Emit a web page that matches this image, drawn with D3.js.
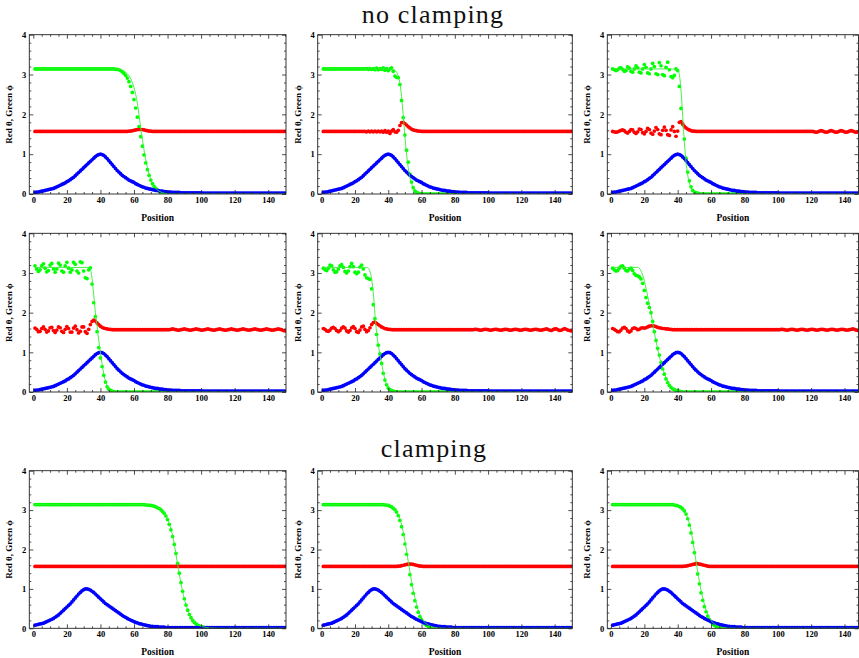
<!DOCTYPE html>
<html>
<head>
<meta charset="utf-8">
<script src="https://cdn.jsdelivr.net/npm/d3@7"></script>
<style>
  body { margin: 0; background: #fff; }
  svg { display: block; }
</style>
</head>
<body>
<svg id="chart" width="859" height="658"></svg>
<script>
// ---- tick values -------------------------------------------------------
const xTicks = [0, 20, 40, 60, 80, 100, 120, 140];
const xMinor = [5, 10, 15, 25, 30, 35, 45, 50, 55, 65, 70, 75, 85, 90, 95, 105, 110, 115, 125, 130, 135, 145, 150];
const yTicks = [0, 1, 2, 3, 4];
const yMinor = [0.2, 0.4, 0.6, 0.8, 1.2, 1.4, 1.6, 1.8, 2.2, 2.4, 2.6, 2.8, 3.2, 3.4, 3.6, 3.8];

// site positions 1..150
const positions = d3.range(1, 151);

// ---- blue profile (rows 1-2, centred near 40) --------------------------
const blueA = [
  0.04,0.05,0.05,0.06,0.07,0.08,0.09,0.10,0.11,0.12,
  0.13,0.14,0.16,0.18,0.20,0.22,0.24,0.26,0.28,0.31,
  0.33,0.36,0.39,0.42,0.46,0.50,0.54,0.58,0.62,0.66,
  0.70,0.74,0.78,0.82,0.86,0.90,0.94,0.97,0.99,1.00,
  0.99,0.97,0.93,0.89,0.84,0.79,0.74,0.69,0.64,0.59,
  0.55,0.51,0.47,0.44,0.41,0.38,0.35,0.33,0.31,0.29,
  0.26,0.24,0.22,0.20,0.18,0.17,0.15,0.14,0.13,0.12,
  0.11,0.10,0.09,0.09,0.08,0.07,0.07,0.06,0.06,0.05,
  0.05,0.05,0.04,0.04,0.04,0.04,0.04,0.03,0.03,0.03,
  0.03,0.03,0.03,0.03,0.03,0.03,0.03,0.03,0.03,0.03,
  0.02,0.02,0.02,0.02,0.02,0.02,0.02,0.02,0.02,0.02,
  0.02,0.02,0.02,0.02,0.02,0.02,0.02,0.02,0.02,0.02,
  0.02,0.02,0.02,0.02,0.02,0.02,0.02,0.02,0.02,0.02,
  0.02,0.02,0.02,0.02,0.02,0.02,0.02,0.02,0.02,0.02,
  0.02,0.02,0.02,0.02,0.02,0.02,0.02,0.02,0.02,0.02
];
// ---- blue profile (row 3, centred near 32) -----------------------------
const blueB = [
  0.08,0.09,0.10,0.11,0.12,0.13,0.15,0.17,0.19,0.21,
  0.23,0.25,0.28,0.31,0.34,0.38,0.42,0.46,0.50,0.54,
  0.58,0.62,0.67,0.72,0.77,0.82,0.87,0.91,0.95,0.98,
  1.00,1.00,0.99,0.97,0.94,0.91,0.87,0.83,0.79,0.75,
  0.71,0.67,0.63,0.60,0.57,0.54,0.51,0.48,0.45,0.42,
  0.39,0.36,0.33,0.30,0.28,0.25,0.23,0.21,0.19,0.17,
  0.15,0.14,0.12,0.11,0.10,0.09,0.08,0.07,0.06,0.05,
  0.05,0.04,0.04,0.04,0.03,0.03,0.03,0.03,0.02,0.02,
  0.02,0.02,0.02,0.02,0.02,0.02,0.02,0.02,0.02,0.02,
  0.02,0.02,0.02,0.02,0.02,0.02,0.02,0.02,0.02,0.02,
  0.02,0.02,0.02,0.02,0.02,0.02,0.02,0.02,0.02,0.02,
  0.02,0.02,0.02,0.02,0.02,0.02,0.02,0.02,0.02,0.02,
  0.02,0.02,0.02,0.02,0.02,0.02,0.02,0.02,0.02,0.02,
  0.02,0.02,0.02,0.02,0.02,0.02,0.02,0.02,0.02,0.02,
  0.02,0.02,0.02,0.02,0.02,0.02,0.02,0.02,0.02,0.02
];

// ---- panel 1 -----------------------------------------------------------
const green1 = [
  3.14,3.14,3.14,3.14,3.14,3.14,3.14,3.14,3.14,3.14,
  3.14,3.14,3.14,3.14,3.14,3.14,3.14,3.14,3.14,3.14,
  3.14,3.14,3.14,3.14,3.14,3.14,3.14,3.14,3.14,3.14,
  3.14,3.14,3.14,3.14,3.14,3.14,3.14,3.14,3.14,3.14,
  3.14,3.14,3.14,3.14,3.14,3.14,3.14,3.14,3.13,3.13,
  3.12,3.10,3.07,3.03,2.98,2.91,2.82,2.70,2.55,2.37,
  2.16,1.93,1.69,1.44,1.20,0.98,0.78,0.61,0.47,0.35,
  0.26,0.19,0.14,0.10,0.07,0.05,0.03,0.02,0.02,0.01,
  0.01,0.01,0,0,0,0,0,0,0,0,
  0,0,0,0,0,0,0,0,0,0,
  0,0,0,0,0,0,0,0,0,0,
  0,0,0,0,0,0,0,0,0,0,
  0,0,0,0,0,0,0,0,0,0,
  0,0,0,0,0,0,0,0,0,0,
  0,0,0,0,0,0,0,0,0,0
];
const red1 = [
  1.57,1.57,1.57,1.57,1.57,1.57,1.57,1.57,1.57,1.57,
  1.57,1.57,1.57,1.57,1.57,1.57,1.57,1.57,1.57,1.57,
  1.57,1.57,1.57,1.57,1.57,1.57,1.57,1.57,1.57,1.57,
  1.57,1.57,1.57,1.57,1.57,1.57,1.57,1.57,1.57,1.57,
  1.57,1.57,1.57,1.57,1.57,1.57,1.57,1.57,1.57,1.57,
  1.57,1.57,1.57,1.57,1.57,1.57,1.58,1.58,1.59,1.60,
  1.61,1.62,1.62,1.62,1.62,1.61,1.60,1.59,1.58,1.58,
  1.57,1.57,1.57,1.57,1.57,1.57,1.57,1.57,1.57,1.57,
  1.57,1.57,1.57,1.57,1.57,1.57,1.57,1.57,1.57,1.57,
  1.57,1.57,1.57,1.57,1.57,1.57,1.57,1.57,1.57,1.57,
  1.57,1.57,1.57,1.57,1.57,1.57,1.57,1.57,1.57,1.57,
  1.57,1.57,1.57,1.57,1.57,1.57,1.57,1.57,1.57,1.57,
  1.57,1.57,1.57,1.57,1.57,1.57,1.57,1.57,1.57,1.57,
  1.57,1.57,1.57,1.57,1.57,1.57,1.57,1.57,1.57,1.57,
  1.57,1.57,1.57,1.57,1.57,1.57,1.57,1.57,1.57,1.57
];
const fit1 = [[1,3.14],[48,3.14],[52,3.12],[55,3.06],[57,2.97],[59,2.80],[60,2.67],[61,2.50],[62,2.28],[63,1.98],[64,1.66],[65,1.37],[66,1.10],[67,0.86],[68,0.66],[69,0.50],[70,0.37],[72,0.19],[74,0.10],[76,0.05],[78,0.02],[82,0],[150,0]];

// ---- panel 2 -----------------------------------------------------------
const green2 = [
  3.14,3.14,3.14,3.14,3.14,3.14,3.14,3.14,3.14,3.14,
  3.14,3.14,3.14,3.14,3.14,3.14,3.14,3.14,3.14,3.14,
  3.14,3.14,3.14,3.14,3.14,3.14,3.15,3.13,3.15,3.13,
  3.15,3.12,3.16,3.12,3.15,3.13,3.17,3.11,3.15,3.10,
  3.14,3.17,3.08,2.96,2.93,2.92,2.75,2.35,1.92,1.48,
  1.10,0.80,0.50,0.30,0.16,0.08,0.04,0.02,0.01,0.01,
  0,0,0,0,0,0,0,0,0,0,
  0,0,0,0,0,0,0,0,0,0,
  0,0,0,0,0,0,0,0,0,0,
  0,0,0,0,0,0,0,0,0,0,
  0,0,0,0,0,0,0,0,0,0,
  0,0,0,0,0,0,0,0,0,0,
  0,0,0,0,0,0,0,0,0,0,
  0,0,0,0,0,0,0,0,0,0,
  0,0,0,0,0,0,0,0,0,0
];
const red2 = [
  1.57,1.57,1.57,1.57,1.57,1.57,1.57,1.57,1.57,1.57,
  1.57,1.57,1.57,1.57,1.57,1.57,1.57,1.57,1.57,1.57,
  1.57,1.57,1.57,1.57,1.57,1.57,1.56,1.58,1.56,1.58,
  1.56,1.58,1.56,1.58,1.56,1.58,1.55,1.59,1.55,1.58,
  1.52,1.58,1.62,1.56,1.55,1.60,1.72,1.79,1.80,1.77,
  1.73,1.69,1.66,1.63,1.61,1.60,1.59,1.58,1.58,1.57,
  1.57,1.57,1.57,1.57,1.57,1.57,1.57,1.57,1.57,1.57,
  1.57,1.57,1.57,1.57,1.57,1.57,1.57,1.57,1.57,1.57,
  1.57,1.57,1.57,1.57,1.57,1.57,1.57,1.57,1.57,1.57,
  1.57,1.57,1.57,1.57,1.57,1.57,1.57,1.57,1.57,1.57,
  1.57,1.57,1.57,1.57,1.57,1.57,1.57,1.57,1.57,1.57,
  1.57,1.57,1.57,1.57,1.57,1.57,1.57,1.57,1.57,1.57,
  1.57,1.57,1.57,1.57,1.57,1.57,1.57,1.57,1.57,1.57,
  1.57,1.57,1.57,1.57,1.57,1.57,1.57,1.57,1.57,1.57,
  1.57,1.57,1.57,1.57,1.57,1.57,1.57,1.57,1.57,1.57
];
const fit2 = [[1,3.14],[42,3.14],[44,3.11],[45,3.06],[46,2.96],[47,2.78],[48,2.45],[49,1.98],[50,1.45],[51,1.00],[52,0.66],[53,0.42],[54,0.26],[55,0.16],[57,0.06],[60,0.01],[63,0],[150,0]];

// ---- panel 3 -----------------------------------------------------------
const green3 = [
  3.14,3.12,3.10,3.12,3.16,3.17,3.13,3.08,3.10,3.19,
  3.16,3.08,3.06,3.14,3.22,3.17,3.06,3.04,3.14,3.25,
  3.18,3.04,3.02,3.14,3.28,3.20,3.02,3.00,3.30,3.22,
  3.00,2.97,3.18,3.31,3.12,2.95,2.92,2.98,3.14,3.10,
  2.70,2.15,1.75,1.38,0.90,0.55,0.33,0.18,0.09,0.05,
  0.03,0.02,0.01,0,0,0,0,0,0,0,
  0,0,0,0,0,0,0,0,0,0,
  0,0,0,0,0,0,0,0,0,0,
  0,0,0,0,0,0,0,0,0,0,
  0,0,0,0,0,0,0,0,0,0,
  0,0,0,0,0,0,0,0,0,0,
  0,0,0,0,0,0,0,0,0,0,
  0,0,0,0,0,0,0,0,0,0,
  0,0,0,0,0,0,0,0,0,0,
  0,0,0,0,0,0,0,0,0,0
];
const red3 = [
  1.57,1.56,1.55,1.56,1.58,1.60,1.61,1.59,1.55,1.53,
  1.57,1.62,1.61,1.55,1.52,1.56,1.63,1.62,1.54,1.51,
  1.57,1.65,1.62,1.53,1.50,1.58,1.67,1.62,1.51,1.49,
  1.60,1.68,1.60,1.49,1.47,1.61,1.69,1.57,1.45,1.58,
  1.80,1.82,1.76,1.70,1.66,1.63,1.61,1.59,1.58,1.58,
  1.57,1.57,1.57,1.57,1.57,1.57,1.57,1.57,1.57,1.57,
  1.57,1.57,1.57,1.57,1.57,1.57,1.57,1.57,1.57,1.57,
  1.57,1.57,1.57,1.57,1.57,1.57,1.57,1.57,1.57,1.57,
  1.57,1.57,1.57,1.57,1.57,1.57,1.57,1.57,1.57,1.57,
  1.57,1.57,1.57,1.57,1.57,1.57,1.57,1.57,1.57,1.57,
  1.57,1.57,1.57,1.57,1.57,1.57,1.57,1.57,1.57,1.57,
  1.57,1.57,1.57,1.57,1.57,1.57,1.57,1.57,1.57,1.57,
  1.57,1.56,1.55,1.56,1.58,1.59,1.58,1.56,1.55,1.56,
  1.58,1.59,1.58,1.56,1.55,1.56,1.58,1.59,1.58,1.56,
  1.55,1.56,1.58,1.59,1.58,1.56,1.55,1.56,1.58,1.57
];
const fit3 = [[1,3.14],[39,3.14],[40,3.12],[41,3.00],[42,2.60],[43,1.95],[44,1.30],[45,0.80],[46,0.48],[47,0.28],[48,0.16],[50,0.05],[53,0.01],[56,0],[150,0]];

// ---- panel 4 -----------------------------------------------------------
const green4 = [
  3.18,3.10,3.04,3.08,3.18,3.23,3.12,3.03,3.06,3.20,
  3.24,3.10,3.02,3.10,3.25,3.20,3.05,3.02,3.18,3.27,
  3.12,3.02,3.08,3.27,3.22,3.05,3.00,3.28,3.26,3.05,
  2.88,2.86,3.08,3.13,2.72,2.25,1.90,1.52,1.12,0.86,
  0.64,0.42,0.25,0.13,0.07,0.04,0.02,0.01,0,0,
  0,0,0,0,0,0,0,0,0,0,
  0,0,0,0,0,0,0,0,0,0,
  0,0,0,0,0,0,0,0,0,0,
  0,0,0,0,0,0,0,0,0,0,
  0,0,0,0,0,0,0,0,0,0,
  0,0,0,0,0,0,0,0,0,0,
  0,0,0,0,0,0,0,0,0,0,
  0,0,0,0,0,0,0,0,0,0,
  0,0,0,0,0,0,0,0,0,0,
  0,0,0,0,0,0,0,0,0,0
];
const red4 = [
  1.61,1.58,1.52,1.53,1.60,1.64,1.58,1.51,1.54,1.62,
  1.63,1.55,1.50,1.56,1.64,1.62,1.53,1.50,1.58,1.65,
  1.60,1.51,1.51,1.61,1.66,1.57,1.49,1.53,1.64,1.64,
  1.52,1.48,1.58,1.70,1.78,1.81,1.79,1.74,1.70,1.66,
  1.63,1.61,1.60,1.59,1.58,1.58,1.57,1.57,1.57,1.57,
  1.57,1.57,1.57,1.57,1.57,1.57,1.57,1.57,1.57,1.57,
  1.57,1.57,1.57,1.57,1.57,1.57,1.57,1.57,1.57,1.57,
  1.57,1.57,1.57,1.57,1.57,1.57,1.57,1.57,1.57,1.57,
  1.57,1.58,1.59,1.58,1.57,1.56,1.56,1.57,1.58,1.59,
  1.58,1.57,1.56,1.56,1.57,1.58,1.59,1.58,1.57,1.56,
  1.56,1.57,1.58,1.59,1.58,1.57,1.56,1.56,1.57,1.58,
  1.59,1.58,1.57,1.56,1.56,1.57,1.58,1.59,1.58,1.57,
  1.56,1.56,1.57,1.58,1.59,1.58,1.57,1.56,1.56,1.57,
  1.58,1.59,1.58,1.57,1.56,1.56,1.57,1.58,1.59,1.58,
  1.57,1.56,1.56,1.57,1.58,1.59,1.58,1.57,1.55,1.54
];
const fit4 = [[1,3.14],[33,3.14],[34,3.10],[35,2.85],[36,2.45],[37,2.00],[38,1.65],[39,1.30],[40,0.98],[41,0.70],[42,0.45],[43,0.27],[44,0.15],[46,0.05],[49,0.01],[52,0],[150,0]];

// ---- panel 5 -----------------------------------------------------------
const green5 = [
  3.12,3.08,3.06,3.12,3.20,3.18,3.08,3.02,3.03,3.10,
  3.18,3.21,3.14,3.04,3.00,3.05,3.16,3.24,3.16,3.02,
  2.98,3.02,3.15,3.20,3.10,2.95,2.88,2.86,2.84,2.60,
  2.20,1.85,1.45,1.18,0.96,0.72,0.47,0.30,0.18,0.10,
  0.06,0.04,0.02,0.01,0,0,0,0,0,0,
  0,0,0,0,0,0,0,0,0,0,
  0,0,0,0,0,0,0,0,0,0,
  0,0,0,0,0,0,0,0,0,0,
  0,0,0,0,0,0,0,0,0,0,
  0,0,0,0,0,0,0,0,0,0,
  0,0,0,0,0,0,0,0,0,0,
  0,0,0,0,0,0,0,0,0,0,
  0,0,0,0,0,0,0,0,0,0,
  0,0,0,0,0,0,0,0,0,0,
  0,0,0,0,0,0,0,0,0,0
];
const red5 = [
  1.60,1.58,1.54,1.53,1.56,1.61,1.63,1.60,1.55,1.52,
  1.55,1.61,1.64,1.61,1.54,1.51,1.55,1.62,1.65,1.60,
  1.52,1.50,1.56,1.64,1.66,1.58,1.52,1.55,1.62,1.70,
  1.75,1.76,1.73,1.70,1.67,1.64,1.62,1.60,1.59,1.58,
  1.58,1.57,1.57,1.57,1.57,1.57,1.57,1.57,1.57,1.57,
  1.57,1.57,1.57,1.57,1.57,1.57,1.57,1.57,1.57,1.57,
  1.57,1.57,1.57,1.57,1.57,1.57,1.57,1.57,1.57,1.57,
  1.57,1.57,1.57,1.57,1.57,1.57,1.57,1.57,1.57,1.57,
  1.57,1.57,1.57,1.57,1.57,1.57,1.57,1.57,1.57,1.57,
  1.57,1.58,1.58,1.57,1.56,1.56,1.57,1.58,1.58,1.57,
  1.56,1.56,1.57,1.58,1.58,1.57,1.56,1.56,1.57,1.58,
  1.58,1.57,1.56,1.56,1.57,1.58,1.58,1.57,1.56,1.56,
  1.57,1.58,1.58,1.57,1.56,1.56,1.57,1.58,1.58,1.57,
  1.56,1.56,1.57,1.58,1.59,1.58,1.56,1.55,1.57,1.59,
  1.59,1.57,1.55,1.56,1.58,1.60,1.58,1.56,1.55,1.54
];
const fit5 = [[1,3.14],[27,3.14],[28,3.12],[29,3.04],[30,2.85],[31,2.50],[32,1.95],[33,1.50],[34,1.18],[35,0.95],[36,0.72],[37,0.50],[38,0.32],[39,0.20],[41,0.08],[44,0.02],[48,0],[150,0]];

// ---- panel 6 -----------------------------------------------------------
const green6 = [
  3.12,3.08,3.05,3.06,3.12,3.17,3.18,3.12,3.06,3.05,
  3.10,3.12,3.06,2.98,2.94,2.93,2.90,2.85,2.74,2.56,
  2.38,2.24,2.13,2.00,1.78,1.52,1.30,1.10,0.93,0.75,
  0.58,0.45,0.33,0.24,0.17,0.12,0.08,0.06,0.04,0.03,
  0.02,0.01,0,0,0,0,0,0,0,0,
  0,0,0,0,0,0,0,0,0,0,
  0,0,0,0,0,0,0,0,0,0,
  0,0,0,0,0,0,0,0,0,0,
  0,0,0,0,0,0,0,0,0,0,
  0,0,0,0,0,0,0,0,0,0,
  0,0,0,0,0,0,0,0,0,0,
  0,0,0,0,0,0,0,0,0,0,
  0,0,0,0,0,0,0,0,0,0,
  0,0,0,0,0,0,0,0,0,0,
  0,0,0,0,0,0,0,0,0,0
];
const red6 = [
  1.60,1.58,1.55,1.52,1.52,1.56,1.61,1.63,1.60,1.54,
  1.51,1.54,1.60,1.62,1.60,1.57,1.58,1.61,1.62,1.61,
  1.62,1.64,1.66,1.67,1.67,1.66,1.65,1.63,1.62,1.61,
  1.60,1.60,1.59,1.59,1.58,1.58,1.57,1.57,1.57,1.57,
  1.57,1.57,1.57,1.57,1.57,1.57,1.57,1.57,1.57,1.57,
  1.57,1.57,1.57,1.57,1.57,1.57,1.57,1.57,1.57,1.57,
  1.57,1.57,1.57,1.57,1.57,1.57,1.57,1.57,1.57,1.57,
  1.57,1.57,1.57,1.57,1.57,1.57,1.57,1.57,1.57,1.57,
  1.57,1.57,1.57,1.57,1.57,1.57,1.57,1.57,1.57,1.57,
  1.57,1.57,1.57,1.57,1.57,1.57,1.57,1.57,1.57,1.57,
  1.57,1.58,1.58,1.57,1.56,1.56,1.57,1.58,1.58,1.57,
  1.56,1.56,1.57,1.58,1.58,1.57,1.56,1.56,1.57,1.58,
  1.58,1.57,1.56,1.56,1.57,1.58,1.58,1.57,1.56,1.56,
  1.57,1.58,1.58,1.57,1.56,1.56,1.57,1.58,1.58,1.57,
  1.56,1.56,1.57,1.58,1.59,1.58,1.56,1.55,1.56,1.57
];
const fit6 = [[1,3.14],[16,3.14],[17,3.12],[18,3.05],[19,2.95],[20,2.80],[21,2.62],[22,2.42],[23,2.20],[24,1.98],[25,1.75],[26,1.50],[27,1.28],[28,1.08],[29,0.90],[30,0.74],[31,0.60],[32,0.47],[33,0.36],[34,0.27],[35,0.20],[37,0.10],[40,0.04],[44,0.01],[48,0],[150,0]];

// ---- panel 7 (clamped) -------------------------------------------------
const green7 = [
  3.14,3.14,3.14,3.14,3.14,3.14,3.14,3.14,3.14,3.14,
  3.14,3.14,3.14,3.14,3.14,3.14,3.14,3.14,3.14,3.14,
  3.14,3.14,3.14,3.14,3.14,3.14,3.14,3.14,3.14,3.14,
  3.14,3.14,3.14,3.14,3.14,3.14,3.14,3.14,3.14,3.14,
  3.14,3.14,3.14,3.14,3.14,3.14,3.14,3.14,3.14,3.14,
  3.14,3.14,3.14,3.14,3.14,3.14,3.14,3.14,3.14,3.14,
  3.14,3.14,3.14,3.14,3.14,3.14,3.13,3.13,3.12,3.12,
  3.11,3.10,3.08,3.06,3.04,3.01,2.97,2.92,2.85,2.76,
  2.64,2.50,2.33,2.13,1.90,1.65,1.40,1.16,0.94,0.75,
  0.59,0.46,0.35,0.27,0.20,0.15,0.11,0.08,0.06,0.04,
  0.03,0.02,0.02,0.01,0.01,0,0,0,0,0,
  0,0,0,0,0,0,0,0,0,0,
  0,0,0,0,0,0,0,0,0,0,
  0,0,0,0,0,0,0,0,0,0,
  0,0,0,0,0,0,0,0,0,0
];
const red7 = [
  1.57,1.57,1.57,1.57,1.57,1.57,1.57,1.57,1.57,1.57,
  1.57,1.57,1.57,1.57,1.57,1.57,1.57,1.57,1.57,1.57,
  1.57,1.57,1.57,1.57,1.57,1.57,1.57,1.57,1.57,1.57,
  1.57,1.57,1.57,1.57,1.57,1.57,1.57,1.57,1.57,1.57,
  1.57,1.57,1.57,1.57,1.57,1.57,1.57,1.57,1.57,1.57,
  1.57,1.57,1.57,1.57,1.57,1.57,1.57,1.57,1.57,1.57,
  1.57,1.57,1.57,1.57,1.57,1.57,1.57,1.57,1.57,1.57,
  1.57,1.57,1.57,1.57,1.57,1.57,1.57,1.57,1.57,1.57,
  1.57,1.57,1.57,1.57,1.57,1.57,1.57,1.57,1.57,1.57,
  1.57,1.57,1.57,1.57,1.57,1.57,1.57,1.57,1.57,1.57,
  1.57,1.57,1.57,1.57,1.57,1.57,1.57,1.57,1.57,1.57,
  1.57,1.57,1.57,1.57,1.57,1.57,1.57,1.57,1.57,1.57,
  1.57,1.57,1.57,1.57,1.57,1.57,1.57,1.57,1.57,1.57,
  1.57,1.57,1.57,1.57,1.57,1.57,1.57,1.57,1.57,1.57,
  1.57,1.57,1.57,1.57,1.57,1.57,1.57,1.57,1.57,1.57
];
const fit7 = [[1,3.14],[66,3.14],[70,3.12],[74,3.07],[77,2.98],[79,2.87],[81,2.67],[83,2.35],[84,2.14],[85,1.88],[86,1.62],[87,1.37],[88,1.14],[89,0.93],[90,0.75],[91,0.60],[92,0.47],[94,0.28],[96,0.16],[98,0.09],[101,0.04],[105,0.01],[110,0],[150,0]];

// ---- panel 8 (clamped) -------------------------------------------------
const green8 = [
  3.14,3.14,3.14,3.14,3.14,3.14,3.14,3.14,3.14,3.14,
  3.14,3.14,3.14,3.14,3.14,3.14,3.14,3.14,3.14,3.14,
  3.14,3.14,3.14,3.14,3.14,3.14,3.14,3.14,3.14,3.14,
  3.14,3.14,3.14,3.14,3.14,3.14,3.14,3.13,3.13,3.12,
  3.10,3.08,3.05,3.01,2.95,2.86,2.74,2.58,2.38,2.14,
  1.88,1.62,1.36,1.11,0.89,0.70,0.54,0.41,0.30,0.22,
  0.16,0.11,0.08,0.05,0.04,0.03,0.02,0.01,0,0,
  0,0,0,0,0,0,0,0,0,0,
  0,0,0,0,0,0,0,0,0,0,
  0,0,0,0,0,0,0,0,0,0,
  0,0,0,0,0,0,0,0,0,0,
  0,0,0,0,0,0,0,0,0,0,
  0,0,0,0,0,0,0,0,0,0,
  0,0,0,0,0,0,0,0,0,0,
  0,0,0,0,0,0,0,0,0,0
];
const red8 = [
  1.57,1.57,1.57,1.57,1.57,1.57,1.57,1.57,1.57,1.57,
  1.57,1.57,1.57,1.57,1.57,1.57,1.57,1.57,1.57,1.57,
  1.57,1.57,1.57,1.57,1.57,1.57,1.57,1.57,1.57,1.57,
  1.57,1.57,1.57,1.57,1.57,1.57,1.57,1.57,1.57,1.57,
  1.57,1.57,1.57,1.57,1.57,1.58,1.58,1.59,1.60,1.61,
  1.62,1.63,1.63,1.63,1.62,1.61,1.60,1.59,1.58,1.58,
  1.57,1.57,1.57,1.57,1.57,1.57,1.57,1.57,1.57,1.57,
  1.57,1.57,1.57,1.57,1.57,1.57,1.57,1.57,1.57,1.57,
  1.57,1.57,1.57,1.57,1.57,1.57,1.57,1.57,1.57,1.57,
  1.57,1.57,1.57,1.57,1.57,1.57,1.57,1.57,1.57,1.57,
  1.57,1.57,1.57,1.57,1.57,1.57,1.57,1.57,1.57,1.57,
  1.57,1.57,1.57,1.57,1.57,1.57,1.57,1.57,1.57,1.57,
  1.57,1.57,1.57,1.57,1.57,1.57,1.57,1.57,1.57,1.57,
  1.57,1.57,1.57,1.57,1.57,1.57,1.57,1.57,1.57,1.57,
  1.57,1.57,1.57,1.57,1.57,1.57,1.57,1.57,1.57,1.57
];
const fit8 = [[1,3.14],[38,3.14],[42,3.09],[45,2.97],[47,2.78],[49,2.45],[50,2.22],[51,1.96],[52,1.70],[53,1.44],[54,1.19],[55,0.97],[56,0.78],[57,0.61],[58,0.47],[60,0.27],[62,0.15],[65,0.06],[70,0.01],[75,0],[150,0]];

// ---- panel 9 (clamped) -------------------------------------------------
const green9 = [
  3.14,3.14,3.14,3.14,3.14,3.14,3.14,3.14,3.14,3.14,
  3.14,3.14,3.14,3.14,3.14,3.14,3.14,3.14,3.14,3.14,
  3.14,3.14,3.14,3.14,3.14,3.14,3.14,3.14,3.14,3.14,
  3.14,3.14,3.14,3.14,3.14,3.14,3.14,3.13,3.12,3.11,
  3.09,3.07,3.03,2.98,2.90,2.78,2.62,2.42,2.18,1.92,
  1.65,1.38,1.13,0.90,0.71,0.55,0.42,0.31,0.22,0.16,
  0.11,0.08,0.05,0.04,0.03,0.02,0.01,0,0,0,
  0,0,0,0,0,0,0,0,0,0,
  0,0,0,0,0,0,0,0,0,0,
  0,0,0,0,0,0,0,0,0,0,
  0,0,0,0,0,0,0,0,0,0,
  0,0,0,0,0,0,0,0,0,0,
  0,0,0,0,0,0,0,0,0,0,
  0,0,0,0,0,0,0,0,0,0,
  0,0,0,0,0,0,0,0,0,0
];
const red9 = [
  1.57,1.57,1.57,1.57,1.57,1.57,1.57,1.57,1.57,1.57,
  1.57,1.57,1.57,1.57,1.57,1.57,1.57,1.57,1.57,1.57,
  1.57,1.57,1.57,1.57,1.57,1.57,1.57,1.57,1.57,1.57,
  1.57,1.57,1.57,1.57,1.57,1.57,1.57,1.57,1.57,1.57,
  1.57,1.57,1.57,1.58,1.58,1.59,1.60,1.61,1.62,1.63,
  1.64,1.64,1.63,1.62,1.61,1.60,1.59,1.58,1.57,1.57,
  1.57,1.57,1.57,1.57,1.57,1.57,1.57,1.57,1.57,1.57,
  1.57,1.57,1.57,1.57,1.57,1.57,1.57,1.57,1.57,1.57,
  1.57,1.57,1.57,1.57,1.57,1.57,1.57,1.57,1.57,1.57,
  1.57,1.57,1.57,1.57,1.57,1.57,1.57,1.57,1.57,1.57,
  1.57,1.57,1.57,1.57,1.57,1.57,1.57,1.57,1.57,1.57,
  1.57,1.57,1.57,1.57,1.57,1.57,1.57,1.57,1.57,1.57,
  1.57,1.57,1.57,1.57,1.57,1.57,1.57,1.57,1.57,1.57,
  1.57,1.57,1.57,1.57,1.57,1.57,1.57,1.57,1.57,1.57,
  1.57,1.57,1.57,1.57,1.57,1.57,1.57,1.57,1.57,1.57
];
const fit9 = [[1,3.14],[37,3.14],[41,3.09],[44,2.97],[46,2.80],[48,2.48],[49,2.24],[50,1.97],[51,1.70],[52,1.44],[53,1.19],[54,0.97],[55,0.78],[56,0.61],[57,0.47],[59,0.27],[61,0.15],[64,0.06],[69,0.01],[74,0],[150,0]];

const panels = [
  { green: green1, red: red1, blue: blueA, fit: fit1 },
  { green: green2, red: red2, blue: blueA, fit: fit2 },
  { green: green3, red: red3, blue: blueA, fit: fit3 },
  { green: green4, red: red4, blue: blueA, fit: fit4 },
  { green: green5, red: red5, blue: blueA, fit: fit5 },
  { green: green6, red: red6, blue: blueA, fit: fit6 },
  { green: green7, red: red7, blue: blueB, fit: fit7 },
  { green: green8, red: red8, blue: blueB, fit: fit8 },
  { green: green9, red: red9, blue: blueB, fit: fit9 }
];

// ---- layout --------------------------------------------------------------
const colFrames = [[29.3, 286], [317.7, 572.3], [607.3, 858.5]];
const colDomains = [[-2.4, 150.6], [-2.4, 150.6], [-2.2, 148.4]];
const rowFrames = [[34.7, 194], [233.3, 392], [470.7, 628.3]];
const showXLabel = [true, false, true];

const serif = '"Liberation Serif", "Times New Roman", serif';
const svg = d3.select('#chart');

svg.append('text')
  .attr('x', 433).attr('y', 23)
  .attr('text-anchor', 'middle')
  .attr('font-family', serif).attr('font-size', 26)
  .attr('letter-spacing', 1.2)
  .attr('fill', '#111')
  .text('no clamping');
svg.append('text')
  .attr('x', 434).attr('y', 457)
  .attr('text-anchor', 'middle')
  .attr('font-family', serif).attr('font-size', 26)
  .attr('letter-spacing', 1.2)
  .attr('fill', '#111')
  .text('clamping');

const dotR = 1.85;

panels.forEach((p, i) => {
  const row = Math.floor(i / 3), col = i % 3;
  const [l, r] = colFrames[col];
  const [t, b] = rowFrames[row];
  const x = d3.scaleLinear().domain(colDomains[col]).range([l, r]);
  const y = d3.scaleLinear().domain([0, 4]).range([b, t]);

  const g = svg.append('g');
  const clipId = 'clip' + i;
  g.append('clipPath').attr('id', clipId)
    .append('rect').attr('x', l).attr('y', t).attr('width', r - l).attr('height', b - t);

  const plot = g.append('g').attr('clip-path', `url(#${clipId})`);

  const series = [
    { vals: p.green, color: '#00ff00' },
    { vals: p.red, color: '#ff0000' },
    { vals: p.blue, color: '#0000ff' }
  ];
  series.forEach(s => {
    plot.append('g').selectAll('circle')
      .data(positions)
      .join('circle')
      .attr('cx', d => x(d))
      .attr('cy', (d, k) => y(s.vals[k]))
      .attr('r', dotR)
      .attr('fill', s.color);
  });

  plot.append('path')
    .datum(p.fit)
    .attr('fill', 'none')
    .attr('stroke', '#33ee33')
    .attr('stroke-width', 0.9)
    .attr('d', d3.line().x(d => x(d[0])).y(d => y(d[1])).curve(d3.curveMonotoneX));

  // frame ticks (inward, all four sides)
  const styleAxis = sel => {
    sel.attr('font-family', serif).attr('font-size', 8.5).attr('font-weight', 'bold');
    sel.select('.domain').remove();
    sel.selectAll('.tick line').attr('stroke', '#222').attr('stroke-width', 0.8);
    sel.selectAll('.tick text').attr('fill', '#000');
  };
  const xm = xMinor.filter(v => v <= colDomains[col][1]);
  g.append('g').attr('transform', `translate(0,${b})`)
    .call(d3.axisBottom(x).tickValues(xTicks).tickSize(-4).tickPadding(3).tickFormat(d3.format('d')))
    .call(styleAxis);
  g.append('g').attr('transform', `translate(0,${b})`)
    .call(d3.axisBottom(x).tickValues(xm).tickSize(-2).tickFormat(''))
    .call(styleAxis);
  g.append('g').attr('transform', `translate(0,${t})`)
    .call(d3.axisTop(x).tickValues(xTicks).tickSize(-4).tickFormat(''))
    .call(styleAxis);
  g.append('g').attr('transform', `translate(0,${t})`)
    .call(d3.axisTop(x).tickValues(xm).tickSize(-2).tickFormat(''))
    .call(styleAxis);
  g.append('g').attr('transform', `translate(${l},0)`)
    .call(d3.axisLeft(y).tickValues(yTicks).tickSize(-4).tickPadding(3).tickFormat(d3.format('d')))
    .call(styleAxis);
  g.append('g').attr('transform', `translate(${l},0)`)
    .call(d3.axisLeft(y).tickValues(yMinor).tickSize(-2).tickFormat(''))
    .call(styleAxis);
  g.append('g').attr('transform', `translate(${r},0)`)
    .call(d3.axisRight(y).tickValues(yTicks).tickSize(-4).tickFormat(''))
    .call(styleAxis);
  g.append('g').attr('transform', `translate(${r},0)`)
    .call(d3.axisRight(y).tickValues(yMinor).tickSize(-2).tickFormat(''))
    .call(styleAxis);

  g.append('rect')
    .attr('x', l).attr('y', t).attr('width', r - l).attr('height', b - t)
    .attr('fill', 'none').attr('stroke', '#222').attr('stroke-width', 0.9);

  // axis titles
  g.append('text')
    .attr('transform', `translate(${l - 17},${(t + b) / 2}) rotate(-90)`)
    .attr('text-anchor', 'middle')
    .attr('font-family', serif).attr('font-weight', 'bold').attr('font-size', 9)
    .text('Red \u03B8, Green \u03D5');
  if (showXLabel[row]) {
    g.append('text')
      .attr('x', (l + r) / 2).attr('y', b + 27)
      .attr('text-anchor', 'middle')
      .attr('font-family', serif).attr('font-weight', 'bold').attr('font-size', 9.5)
      .text('Position');
  }
});
</script>
</body>
</html>
